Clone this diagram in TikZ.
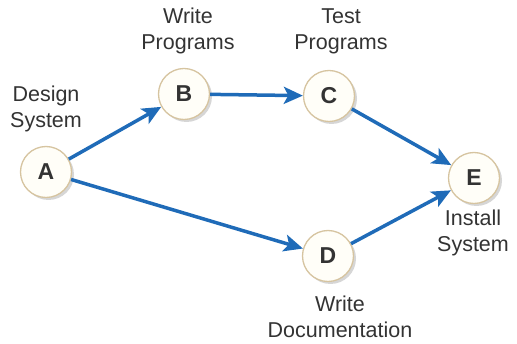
\documentclass[tikz,border=0pt]{standalone}
\usepackage{fontspec}
\setmainfont{Liberation Sans}
\usetikzlibrary{arrows.meta,shadows}
\definecolor{arrowblue}{HTML}{1F6BB8}
\definecolor{ringtan}{HTML}{D6C4A0}
\definecolor{nodefill}{HTML}{FFFEF8}
\definecolor{txt}{HTML}{333333}
\tikzset{
  evt/.style={circle, draw=ringtan, line width=1.3pt, fill=nodefill, minimum size=51pt, inner sep=0pt,
    font=\fontsize{23}{26}\selectfont\bfseries, text=txt,
    drop shadow={shadow xshift=2.5pt, shadow yshift=-2.5pt, fill=black!40, opacity=0.4}},
  lbl/.style={align=center, inner sep=0pt, text=txt, font=\fontsize{21.5}{26}\selectfont},
  act/.style={draw=arrowblue, line width=3.5pt, -{Stealth[length=19pt,width=17pt,inset=4.5pt]}},
}
\begin{document}
\begin{tikzpicture}[x=1pt,y=-1pt]
\useasboundingbox (0,0) rectangle (517,344);
\node[evt] (A) at (46,172) {A};
\node[evt] (B) at (184,94) {B};
\node[evt] (C) at (329,96) {C};
\node[evt] (D) at (328,256) {D};
\node[evt] (E) at (474,178) {E};
\node[lbl] (la) at (46,109) {Design\\System};
\node[lbl] (lb) at (188,31) {Write\\Programs};
\node[lbl] (lc) at (341,31) {Test\\Programs};
\node[lbl] (le) at (473,233) {Install\\System};
\node[lbl] (ld) at (340,317) {Write\\Documentation};
\draw[act] (A) -- (B);
\draw[act] (B) -- (C);
\draw[act] (C) -- (E);
\draw[act] (A) -- (D);
\draw[act] (D) -- (E);
\end{tikzpicture}
\end{document}
